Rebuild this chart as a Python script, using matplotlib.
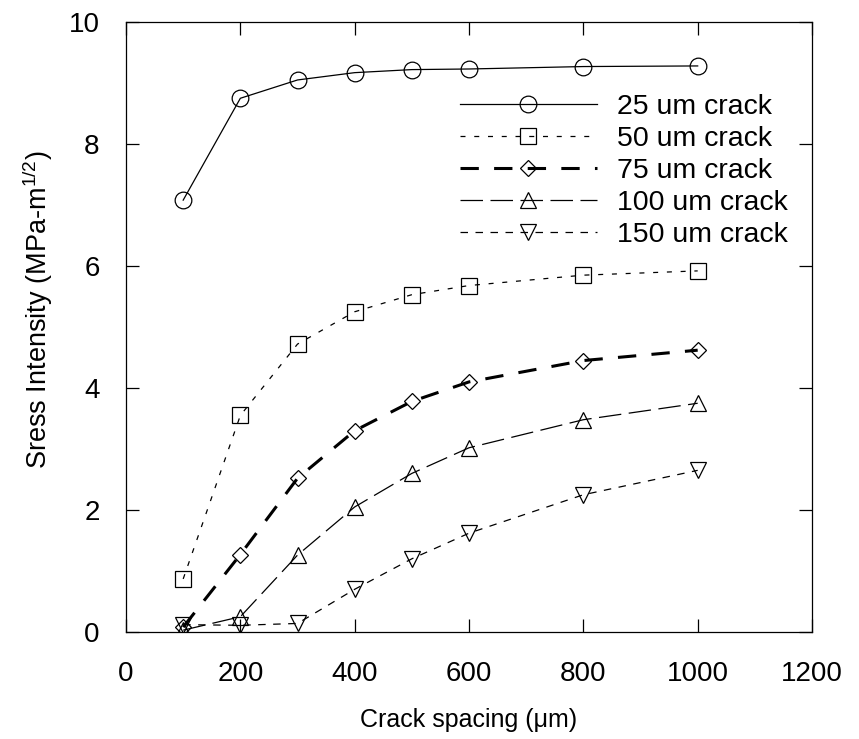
import matplotlib
matplotlib.use("Agg")
import matplotlib.pyplot as plt

plt.rcParams['font.family'] = ['Liberation Sans', 'DejaVu Sans']
plt.rcParams['mathtext.fontset'] = 'custom'
plt.rcParams['mathtext.rm'] = 'Liberation Sans'

spacing = [100, 200, 300, 400, 500, 600, 800, 1000]
k25 = [7.08, 8.75, 9.05, 9.17, 9.22, 9.23, 9.27, 9.28]
k50 = [0.87, 3.55, 4.72, 5.25, 5.53, 5.68, 5.85, 5.92]
k75 = [0.08, 1.27, 2.52, 3.30, 3.78, 4.10, 4.45, 4.62]
k100 = [0.03, 0.25, 1.26, 2.05, 2.60, 3.02, 3.48, 3.75]
k150 = [0.12, 0.11, 0.14, 0.70, 1.20, 1.62, 2.25, 2.65]
labels = ["25 um crack", "50 um crack", "75 um crack", "100 um crack", "150 um crack"]

fig = plt.figure(figsize=(8.59, 7.39), dpi=100)
ax = fig.add_axes([0.1467, 0.1448, 0.7986, 0.8254])

mk = dict(markersize=12, markerfacecolor='none', markeredgecolor='black', markeredgewidth=0.9, color='black')
ax.plot(spacing, k25, linestyle='-', linewidth=0.9, marker='o', label=labels[0], **mk)
ax.plot(spacing, k50, linestyle=(0, (4, 7)), linewidth=0.9, marker='s', label=labels[1], **mk)
ax.plot(spacing, k75, linestyle=(0, (6, 5)), linewidth=2.2, marker='D',
        **{**mk, 'markersize': 8.5}, label=labels[2])
ax.plot(spacing, k100, linestyle=(0, (18, 6)), linewidth=0.9, marker='^', label=labels[3], **mk)
ax.plot(spacing, k150, linestyle=(0, (6, 6)), linewidth=0.9, marker='v', label=labels[4], **mk)

ax.set_xlim(0, 1200)
ax.set_ylim(0, 10)
ax.set_xticks(range(0, 1201, 200))
ax.set_yticks(range(0, 11, 2))
ax.tick_params(direction='in', length=9.5, width=0.9, top=True, right=True, labelsize=20)
ax.tick_params(axis='x', pad=21)
ax.tick_params(axis='y', pad=19)
for s in ax.spines.values():
    s.set_linewidth(0.9)

ax.set_xlabel("Crack spacing (\u03bcm)", fontsize=18, labelpad=15)
ax.set_ylabel("Sress Intensity (MPa-m$^{\\mathregular{1/2}}$)", fontsize=19.5, labelpad=10)
ax.yaxis.label.set_y(0.528)

leg = ax.legend(loc='upper left', bbox_to_anchor=(460 / 859, 1 - 94 / 739),
                bbox_transform=fig.transFigure, frameon=False, fontsize=20.5,
                handlelength=4.8, handletextpad=0.7, labelspacing=0.21,
                borderpad=0, borderaxespad=0, markerscale=1.0)

fig.savefig("out.png", dpi=100)
